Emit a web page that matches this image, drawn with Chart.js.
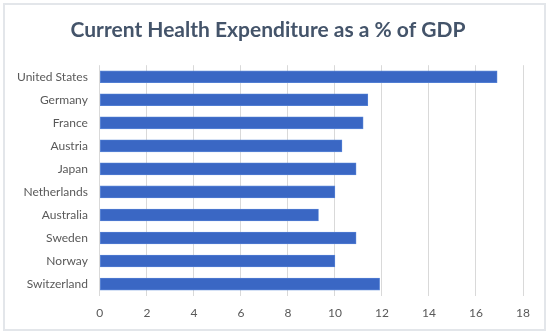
<!DOCTYPE html>
<html lang="en">
<head>
  <meta charset="UTF-8">
  <title>Current Health Expenditure as a % of GDP</title>
  <script src="https://cdn.jsdelivr.net/npm/chart.js"></script>
  <style>
    * { box-sizing: border-box; }
    body { margin: 0; background: #fff; }
    .frame { position: absolute; left: 3px; top: 3px; width: 543px; height: 328px; border: 2px solid #e3e6ea; }
    .chart-box { position: relative; width: 550px; height: 335px; }
  </style>
</head>
<body>
  <div class="chart-box">
    <div class="frame"></div>
    <canvas id="chart"></canvas>
  </div>
  <script>
    // values
    const countries = ['United States', 'Germany', 'France', 'Austria', 'Japan',
                       'Netherlands', 'Australia', 'Sweden', 'Norway', 'Switzerland'];
    const spending = [16.9, 11.4, 11.2, 10.3, 10.9, 10.0, 9.3, 10.9, 10.0, 11.9];
    const xTicks = [0, 2, 4, 6, 8, 10, 12, 14, 16, 18];

    const ctx = document.getElementById('chart').getContext('2d');
    new Chart(ctx, {
      type: 'bar',
      data: {
        labels: countries,
        datasets: [{
          data: spending,
          backgroundColor: c => {
            const bar = c.chart.getDatasetMeta(0).data[c.dataIndex];
            if (!bar || bar.y == null) return '#3a67c4';
            const g = c.chart.ctx.createLinearGradient(0, bar.y - 6, 0, bar.y + 6);
            g.addColorStop(0, '#4a7ad3');
            g.addColorStop(0.5, '#3a68c6');
            g.addColorStop(1, '#2c57b4');
            return g;
          },
          borderColor: '#5a86d8',
          borderWidth: 0.8,
          borderSkipped: false,
          barThickness: 12
        }]
      },
      options: {
        indexAxis: 'y',
        responsive: true,
        maintainAspectRatio: false,
        animation: false,
        layout: { padding: { top: 18, bottom: 5, left: 13, right: 27 } },
        plugins: {
          legend: { display: false },
          tooltip: { enabled: false },
          title: {
            display: true,
            text: 'Current Health Expenditure as a % of GDP',
            color: '#44546A',
            font: { family: 'Lato', size: 21, weight: 'bold' },
            padding: { top: 0, bottom: 22 }
          }
        },
        scales: {
          x: {
            min: 0, max: 18,
            afterBuildTicks: axis => { axis.ticks = xTicks.map(v => ({ value: v })); },
            grid: { color: '#d9d9d9', drawTicks: false },
            border: { display: false },
            ticks: { color: '#595959', padding: 10, font: { family: 'Lato', size: 12 } }
          },
          y: {
            grid: { display: false },
            border: { display: false },
            ticks: { color: '#595959', padding: 4, font: { family: 'Lato', size: 12 } }
          }
        }
      }
    });
  </script>
</body>
</html>
